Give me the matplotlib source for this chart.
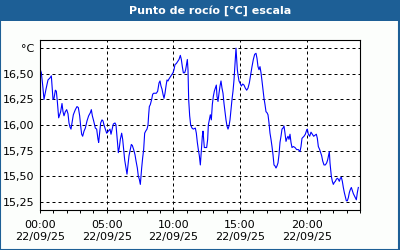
import matplotlib
matplotlib.use('Agg')
import matplotlib.pyplot as plt
from matplotlib.patches import Rectangle
from matplotlib.ticker import MultipleLocator, FixedLocator

# hours since 00:00 on 22/09/25
hours = [0.0, 0.1, 0.2, 0.3, 0.45, 0.6, 0.75, 0.85, 0.975, 1.05, 1.15, 1.225, 1.3, 1.4,
         1.475, 1.55, 1.65, 1.725, 1.8, 1.9, 2.0, 2.1, 2.175, 2.25, 2.325, 2.4, 2.5,
         2.65, 2.775, 2.875, 2.975, 3.05, 3.125, 3.2, 3.3, 3.4, 3.525, 3.65, 3.775,
         3.85, 3.925, 4.025, 4.15, 4.25, 4.35, 4.4, 4.475, 4.55, 4.65, 4.725, 4.8,
         4.875, 5.0, 5.125, 5.25, 5.325, 5.425, 5.5, 5.625, 5.7, 5.775, 5.825, 5.875,
         5.95, 6.025, 6.125, 6.2, 6.275, 6.35, 6.425, 6.525, 6.6, 6.675, 6.775, 6.85,
         6.925, 7.025, 7.125, 7.2, 7.3, 7.375, 7.45, 7.525, 7.575, 7.625, 7.7, 7.775,
         7.85, 7.925, 8.025, 8.1, 8.15, 8.2, 8.275, 8.375, 8.45, 8.525, 8.625, 8.725,
         8.825, 8.925, 9.0, 9.075, 9.15, 9.225, 9.3, 9.375, 9.45, 9.525, 9.6, 9.675,
         9.775, 9.875, 9.975, 10.05, 10.125, 10.225, 10.325, 10.425, 10.525, 10.6,
         10.675, 10.75, 10.85, 10.925, 11.0, 11.05, 11.1, 11.15, 11.225, 11.3, 11.4,
         11.5, 11.65, 11.725, 11.8, 11.875, 11.95, 12.025, 12.075, 12.125, 12.175,
         12.225, 12.275, 12.325, 12.4, 12.5, 12.575, 12.625, 12.7, 12.775, 12.85,
         12.925, 13.0, 13.075, 13.15, 13.225, 13.275, 13.35, 13.425, 13.5, 13.575,
         13.65, 13.725, 13.8, 13.875, 13.95, 14.025, 14.1, 14.175, 14.25, 14.325,
         14.4, 14.475, 14.55, 14.6, 14.65, 14.7, 14.75, 14.8, 14.85, 14.925, 15.0,
         15.1, 15.2, 15.3, 15.4, 15.5, 15.6, 15.7, 15.8, 15.9, 16.0, 16.1, 16.2,
         16.275, 16.35, 16.425, 16.5, 16.575, 16.65, 16.725, 16.8, 16.875, 16.95,
         17.025, 17.1, 17.175, 17.25, 17.325, 17.4, 17.475, 17.55, 17.625, 17.7,
         17.775, 17.85, 17.925, 18.0, 18.075, 18.15, 18.225, 18.3, 18.375, 18.45,
         18.525, 18.6, 18.675, 18.75, 18.825, 18.9, 19.0, 19.125, 19.25, 19.375,
         19.5, 19.575, 19.65, 19.725, 19.8, 19.9, 20.0, 20.05, 20.125, 20.225,
         20.325, 20.425, 20.525, 20.625, 20.725, 20.8, 20.875, 20.975, 21.05, 21.125,
         21.2, 21.3, 21.4, 21.5, 21.575, 21.65, 21.7, 21.75, 21.8, 21.85, 21.925,
         22.0, 22.075, 22.15, 22.225, 22.3, 22.375, 22.45, 22.525, 22.6, 22.675,
         22.75, 22.825, 22.9, 22.975, 23.05, 23.125, 23.2, 23.275, 23.35, 23.425,
         23.5, 23.575, 23.65, 23.725, 23.8, 23.875]

dew_point = [16.55, 16.51, 16.39, 16.25, 16.35, 16.44, 16.46, 16.48, 16.25, 16.26, 16.34, 16.33, 16.23, 16.07,
             16.10, 16.13, 16.21, 16.13, 16.09, 16.13, 16.15, 16.11, 16.02, 15.98, 15.96, 16.02, 16.10,
             16.15, 16.18, 16.17, 16.09, 15.99, 15.91, 15.89, 15.94, 15.97, 16.04, 16.09, 16.12,
             16.15, 16.09, 16.04, 15.97, 15.96, 15.86, 15.83, 15.92, 16.02, 16.05, 16.04, 16.00,
             15.97, 15.92, 15.94, 15.96, 15.91, 15.97, 16.01, 16.02, 16.00, 15.89, 15.81, 15.73,
             15.78, 15.86, 15.92, 15.86, 15.76, 15.66, 15.60, 15.52, 15.61, 15.70, 15.76, 15.81,
             15.80, 15.76, 15.71, 15.65, 15.58, 15.50, 15.47, 15.42, 15.50, 15.58, 15.68, 15.76,
             15.92, 15.94, 15.96, 16.00, 16.10, 16.18, 16.20, 16.25, 16.30, 16.31, 16.31, 16.31,
             16.33, 16.41, 16.43, 16.38, 16.35, 16.30, 16.26, 16.31, 16.38, 16.44, 16.43, 16.45,
             16.47, 16.49, 16.51, 16.54, 16.59, 16.60, 16.62, 16.64, 16.68, 16.64,
             16.57, 16.51, 16.51, 16.54, 16.60, 16.64, 16.54, 16.25, 16.09, 16.00, 15.97,
             15.96, 15.97, 15.92, 15.83, 15.76, 15.70, 15.61, 15.70, 15.79, 15.89,
             15.94, 15.86, 15.78, 15.78, 15.78, 15.86, 16.00, 16.05, 16.10, 16.05,
             16.20, 16.28, 16.33, 16.36, 16.39, 16.28, 16.23, 16.31, 16.38, 16.43,
             16.36, 16.31, 16.21, 16.13, 16.05, 15.99, 15.96, 15.99, 16.05, 16.15,
             16.25, 16.33, 16.44, 16.54, 16.64, 16.75, 16.64, 16.54, 16.49, 16.43, 16.41,
             16.38, 16.40, 16.39, 16.36, 16.34, 16.36, 16.41, 16.49, 16.57, 16.64, 16.69, 16.70,
             16.65, 16.57, 16.54, 16.57, 16.51, 16.43, 16.34, 16.26, 16.20, 16.13,
             16.12, 16.10, 16.02, 15.92, 15.86, 15.79, 15.71, 15.61, 15.60, 15.58,
             15.60, 15.63, 15.71, 15.83, 15.89, 15.96, 15.97, 15.99, 15.92, 15.84,
             15.87, 15.89, 15.86, 15.91, 15.83, 15.78, 15.79, 15.78, 15.76, 15.76,
             15.74, 15.79, 15.87, 15.88, 15.89, 15.91, 15.95, 15.96, 15.91, 15.89,
             15.93, 15.91, 15.89, 15.90, 15.91, 15.87, 15.79, 15.76, 15.73, 15.70,
             15.65, 15.61, 15.61, 15.63, 15.66, 15.71, 15.74, 15.63, 15.57, 15.50, 15.45,
             15.42, 15.44, 15.45, 15.47, 15.48, 15.47, 15.45, 15.48, 15.49, 15.45,
             15.39, 15.34, 15.30, 15.26, 15.26, 15.29, 15.34, 15.37, 15.39, 15.36,
             15.33, 15.31, 15.29, 15.27, 15.34, 15.39]

y_ticks = [15.25, 15.50, 15.75, 16.00, 16.25, 16.50, 16.75]
y_labels = ['15,25', '15,50', '15,75', '16,00', '16,25', '16,50', '°C']
x_ticks = [0, 5, 10, 15, 20]
x_labels = ['00:00\n22/09/25', '05:00\n22/09/25', '10:00\n22/09/25',
            '15:00\n22/09/25', '20:00\n22/09/25']

frame_blue = '#1d5f96'

fig = plt.figure(figsize=(4, 2.5), dpi=100, facecolor='#fcfefc')

# title bar and outer frame
fig.patches.append(Rectangle((0, 1 - 21 / 250), 1, 21 / 250, transform=fig.transFigure,
                             facecolor=frame_blue, edgecolor='none', zorder=0))
fig.patches.append(Rectangle((0.0012, 0.002), 0.9975, 0.996, transform=fig.transFigure,
                             facecolor='none', edgecolor=frame_blue, linewidth=1.5, zorder=0))
fig.text(0.525, 1 - 10.5 / 250, 'Punto de rocío [°C] escala', color='white',
         fontsize=8, fontweight='bold', ha='center', va='center')

ax = fig.add_axes([0.1, 0.16, 0.8, 0.68])
ax.set_facecolor('white')
ax.plot(hours, dew_point, color='#0000ff', linewidth=0.8)

ax.set_xlim(0, 24)
ax.set_ylim(15.17, 16.83)
ax.xaxis.set_major_locator(FixedLocator(x_ticks))
ax.xaxis.set_minor_locator(MultipleLocator(1))
ax.set_xticklabels(x_labels)
ax.set_yticks(y_ticks)
ax.set_yticklabels(y_labels)

ax.grid(True, color='black', linestyle=(0, (3, 3)), linewidth=0.72)
for s in ax.spines.values():
    s.set_color('black')
    s.set_linewidth(0.8)

ax.tick_params(axis='x', which='both', direction='out', length=2.5, width=0.7,
               labelsize=8, pad=5, colors='black')
ax.tick_params(axis='y', which='both', length=0, labelsize=8, pad=4, colors='black')

fig.savefig('out.png', dpi=100, facecolor=fig.get_facecolor())
